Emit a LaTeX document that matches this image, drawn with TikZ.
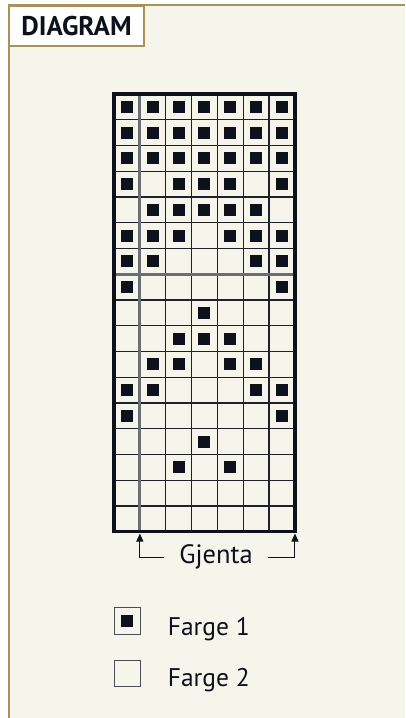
\documentclass[tikz,border=0pt]{standalone}
\usepackage{fontspec}
\setmainfont{PT Sans}
\usetikzlibrary{arrows.meta,calc}
\definecolor{cream}{HTML}{F6F5EC}
\definecolor{olive}{HTML}{A8925A}
\definecolor{ink}{HTML}{0C111B}
\definecolor{gridline}{HTML}{1E2228}
\definecolor{repgray}{HTML}{6B6E72}
\definecolor{legbox}{HTML}{4A4D52}
\tikzset{
  header/.style={draw=olive, line width=1.5pt, fill=white, minimum width=134.5pt, minimum height=40pt, inner sep=0pt, font=\fontsize{27}{30}\selectfont\bfseries, text=ink},
  thin/.style={gridline, line width=1.3pt},
  rep/.style={repgray, line width=3pt},
  frame/.style={ink, line width=3.2pt},
  stitch/.style={fill=ink},
  gjarrow/.style={ink, line width=1pt, -{Triangle[length=8pt,width=7pt]}},
  legendbox/.style={draw=legbox, line width=1pt, minimum size=26.5pt, inner sep=0pt},
  legendtext/.style={anchor=base west, inner sep=0pt, text=ink, font=\fontsize{25.5}{28}\selectfont},
}
\begin{document}
\begin{tikzpicture}[x=1pt,y=-1pt]
\useasboundingbox (0,0) rectangle (405,718);
\fill[white] (0,0) rectangle (405,718);
\fill[cream] (8.5,5) rectangle (405,718);
\draw[olive, line width=2pt] (8.5,718) -- (8.5,5) -- (405,5);
\node[header, anchor=north west] (hdr) at (8.5,5) {DIAGRAM};
% grid
\def\gx{114}\def\gy{94}\def\cw{25.85}\def\ch{25.75}
\foreach \i in {1,...,6} \draw[thin] ({\gx+\i*\cw},\gy) -- ({\gx+\i*\cw},{\gy+17*\ch});
\foreach \j in {1,...,16} \draw[thin] (\gx,{\gy+\j*\ch}) -- ({\gx+7*\cw},{\gy+\j*\ch});
\foreach \r/\cl in {1/{1,2,3,4,5,6,7},2/{1,2,3,4,5,6,7},3/{1,2,3,4,5,6,7},4/{1,3,4,5,7},5/{2,3,4,5,6},6/{1,2,3,5,6,7},7/{1,2,6,7},8/{1,7},9/{4},10/{3,4,5},11/{2,3,5,6},12/{1,2,6,7},13/{1,7},14/{4},15/{3,5}}{
  \foreach \c in \cl {
    \fill[stitch] ({\gx+(\c-0.5)*\cw-6},{\gy+(\r-0.5)*\ch-6}) rectangle +(12,12);
  }
}
\draw[rep] ({\gx+\cw},\gy) -- ({\gx+\cw},{\gy+17*\ch});
\draw[rep] (\gx,{\gy+7*\ch}) -- ({\gx+7*\cw},{\gy+7*\ch});
\draw[frame] (\gx,\gy) rectangle ({\gx+7*\cw},{\gy+17*\ch});
% repeat marker
\coordinate (tipL) at ({\gx+\cw},533.5);
\coordinate (tipR) at ({\gx+7*\cw},533.5);
\node[minimum width=104pt, inner sep=0pt, text=ink, font=\fontsize{26.5}{30}\selectfont] (gjenta) at (216,557) {Gjenta};
\draw[gjarrow] (gjenta.west) -| (tipL);
\draw[gjarrow] (gjenta.east) -| (tipR);
% legend
\node[legendbox] (leg1) at (127.4,621) {};
\fill[stitch] ($(leg1.center)+(-6,-6)$) rectangle +(12,12);
\node[legendtext] (leg1t) at (167.7,635) {Farge 1};
\node[legendbox] (leg2) at (127.4,673.3) {};
\node[legendtext] (leg2t) at (167.7,686) {Farge 2};
\end{tikzpicture}
\end{document}
